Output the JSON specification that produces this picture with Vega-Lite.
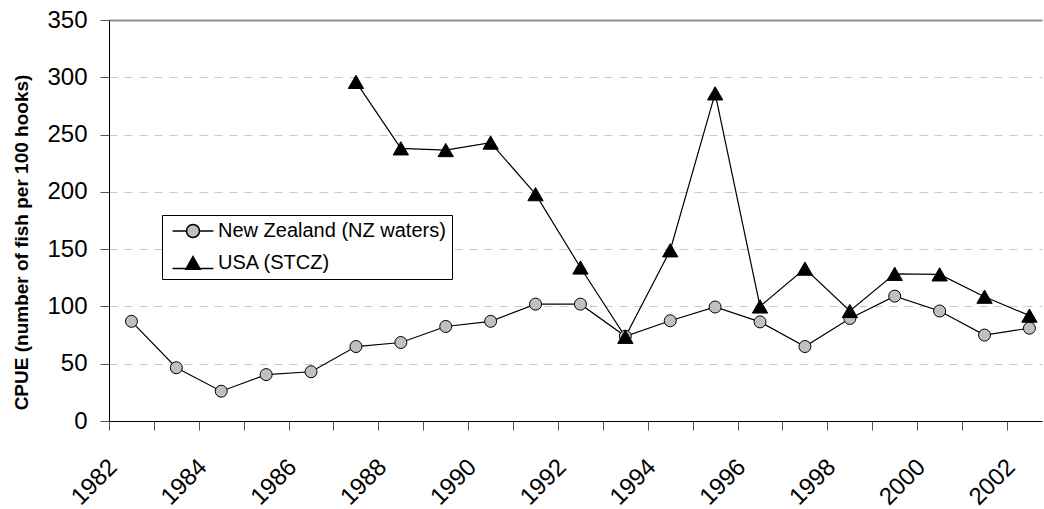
{
  "$schema": "https://vega.github.io/schema/vega-lite/v6.json",
  "width": 933,
  "height": 401,
  "autosize": "none",
  "padding": {"left": 109, "top": 20, "right": 2, "bottom": 88},
  "background": "white",
  "config": {
    "view": {"stroke": null},
    "font": "Liberation Sans"
  },
  "data": {
    "values": [
      {"year": 1982, "series": "New Zealand (NZ waters)", "cpue": 87},
      {"year": 1983, "series": "New Zealand (NZ waters)", "cpue": 46.5},
      {"year": 1984, "series": "New Zealand (NZ waters)", "cpue": 26},
      {"year": 1985, "series": "New Zealand (NZ waters)", "cpue": 40.5},
      {"year": 1986, "series": "New Zealand (NZ waters)", "cpue": 43},
      {"year": 1987, "series": "New Zealand (NZ waters)", "cpue": 65},
      {"year": 1988, "series": "New Zealand (NZ waters)", "cpue": 68.5},
      {"year": 1989, "series": "New Zealand (NZ waters)", "cpue": 82.5},
      {"year": 1990, "series": "New Zealand (NZ waters)", "cpue": 87},
      {"year": 1991, "series": "New Zealand (NZ waters)", "cpue": 102},
      {"year": 1992, "series": "New Zealand (NZ waters)", "cpue": 102},
      {"year": 1993, "series": "New Zealand (NZ waters)", "cpue": 74},
      {"year": 1994, "series": "New Zealand (NZ waters)", "cpue": 87.5},
      {"year": 1995, "series": "New Zealand (NZ waters)", "cpue": 99.5},
      {"year": 1996, "series": "New Zealand (NZ waters)", "cpue": 86.5},
      {"year": 1997, "series": "New Zealand (NZ waters)", "cpue": 65},
      {"year": 1998, "series": "New Zealand (NZ waters)", "cpue": 89.5},
      {"year": 1999, "series": "New Zealand (NZ waters)", "cpue": 109},
      {"year": 2000, "series": "New Zealand (NZ waters)", "cpue": 96},
      {"year": 2001, "series": "New Zealand (NZ waters)", "cpue": 75},
      {"year": 2002, "series": "New Zealand (NZ waters)", "cpue": 81},
      {"year": 1987, "series": "USA (STCZ)", "cpue": 296},
      {"year": 1988, "series": "USA (STCZ)", "cpue": 238},
      {"year": 1989, "series": "USA (STCZ)", "cpue": 236.5},
      {"year": 1990, "series": "USA (STCZ)", "cpue": 243},
      {"year": 1991, "series": "USA (STCZ)", "cpue": 198},
      {"year": 1992, "series": "USA (STCZ)", "cpue": 134},
      {"year": 1993, "series": "USA (STCZ)", "cpue": 73.5},
      {"year": 1994, "series": "USA (STCZ)", "cpue": 149},
      {"year": 1995, "series": "USA (STCZ)", "cpue": 286},
      {"year": 1996, "series": "USA (STCZ)", "cpue": 100},
      {"year": 1997, "series": "USA (STCZ)", "cpue": 133},
      {"year": 1998, "series": "USA (STCZ)", "cpue": 96},
      {"year": 1999, "series": "USA (STCZ)", "cpue": 128.5},
      {"year": 2000, "series": "USA (STCZ)", "cpue": 128},
      {"year": 2001, "series": "USA (STCZ)", "cpue": 108.5},
      {"year": 2002, "series": "USA (STCZ)", "cpue": 92}
    ]
  },
  "encoding": {
    "x": {
      "field": "year",
      "type": "quantitative",
      "scale": {"domain": [1981.5, 2002.28], "nice": false, "zero": false},
      "axis": {
        "title": null,
        "values": [1981.5, 1982.5, 1983.5, 1984.5, 1985.5, 1986.5, 1987.5, 1988.5, 1989.5, 1990.5, 1991.5, 1992.5, 1993.5, 1994.5, 1995.5, 1996.5, 1997.5, 1998.5, 1999.5, 2000.5, 2001.5],
        "labelExpr": "(datum.value + 0.5) % 2 == 0 ? format(datum.value + 0.5, 'd') : ''",
        "labelAngle": -45,
        "labelAlign": "right",
        "labelBaseline": "middle",
        "labelFont": "Liberation Sans",
        "labelFontSize": 24,
        "labelColor": "black",
        "labelPadding": 33,
        "labelOffset": 4,
        "labelFlush": false,
        "labelOverlap": false,
        "labelBound": false,
        "tickSize": 9,
        "tickColor": "#555555",
        "domainColor": "black",
        "domainWidth": 1,
        "grid": false
      }
    },
    "y": {
      "field": "cpue",
      "type": "quantitative",
      "scale": {"domain": [0, 350], "nice": false},
      "axis": {
        "title": "CPUE (number of fish per 100 hooks)",
        "titleFont": "Liberation Sans",
        "titleFontSize": 19,
        "titleFontWeight": "bold",
        "titleColor": "black",
        "titleX": -88,
        "titleY": 222,
        "titleAngle": -90,
        "titleAlign": "center",
        "titleBaseline": "middle",
        "values": [0, 50, 100, 150, 200, 250, 300, 350],
        "labelFont": "Liberation Sans",
        "labelFontSize": 24,
        "labelColor": "black",
        "labelPadding": 13,
        "tickSize": 9,
        "tickColor": "#555555",
        "domainColor": "black",
        "domainWidth": 1,
        "grid": true,
        "gridColor": {"condition": {"test": "datum.value == 350", "value": "#909090"}, "value": "#c8c8c8"},
        "gridDash": {"condition": {"test": "datum.value == 350", "value": []}, "value": [8, 7]},
        "gridWidth": {"condition": {"test": "datum.value == 350", "value": 2}, "value": 1}
      }
    }
  },
  "layer": [
    {
      "mark": {"type": "line", "color": "black", "strokeWidth": 1.2},
      "encoding": {"detail": {"field": "series", "type": "nominal"}}
    },
    {
      "mark": {"type": "point", "filled": true, "stroke": "black", "strokeWidth": 1, "opacity": 1},
      "encoding": {
        "shape": {"field": "series", "type": "nominal", "scale": {"domain": ["New Zealand (NZ waters)", "USA (STCZ)"], "range": ["circle", "triangle-up"]}, "legend": null},
        "color": {"field": "series", "type": "nominal", "scale": {"domain": ["New Zealand (NZ waters)", "USA (STCZ)"], "range": ["#c0c0c0", "#000000"]}, "legend": null},
        "size": {"field": "series", "type": "ordinal", "scale": {"domain": ["New Zealand (NZ waters)", "USA (STCZ)"], "range": [144, 234]}, "legend": null}
      }
    },
    {
      "transform": [{"filter": "false"}],
      "mark": {"type": "point", "filled": true, "stroke": "black", "strokeWidth": 1, "size": 169, "opacity": 1},
      "encoding": {
        "color": {
          "field": "series",
          "type": "nominal",
          "scale": {"domain": ["New Zealand (NZ waters)", "USA (STCZ)"], "range": ["#c0c0c0", "#000000"]},
          "legend": {
            "title": null,
            "orient": "none",
            "legendX": 53,
            "legendY": 195,
            "padding": 6,
            "rowPadding": 12,
            "symbolOffset": 15,
            "labelOffset": 15,
            "labelFont": "Liberation Sans",
            "labelFontSize": 20,
            "labelColor": "black",
            "labelLimit": 400,
            "strokeColor": "black",
            "fillColor": "white",
            "symbolSize": 169
          }
        },
        "shape": {
          "field": "series",
          "type": "nominal",
          "scale": {"domain": ["New Zealand (NZ waters)", "USA (STCZ)"], "range": ["M-3.15,0H-1M1,0H3.15M-1,0A1,1,0,1,0,1,0A1,1,0,1,0,-1,0Z", "M-3.15,0.85H3.15M0,-1L1.1,0.95L-1.1,0.95Z"]},
          "legend": {
            "title": null,
            "orient": "none",
            "legendX": 53,
            "legendY": 195,
            "padding": 6,
            "rowPadding": 12,
            "symbolOffset": 15,
            "labelOffset": 15,
            "labelFont": "Liberation Sans",
            "labelFontSize": 20,
            "labelColor": "black",
            "labelLimit": 400,
            "strokeColor": "black",
            "fillColor": "white",
            "symbolSize": 169
          }
        }
      }
    }
  ],
  "resolve": {"scale": {"shape": "independent", "color": "independent"}}
}
